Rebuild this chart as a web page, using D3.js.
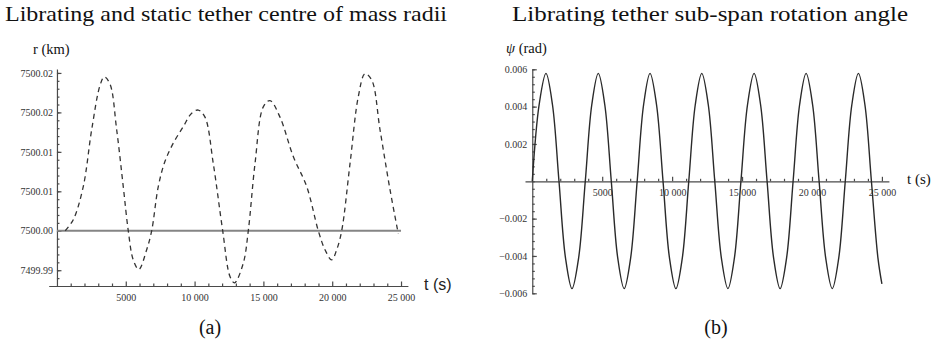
<!DOCTYPE html>
<html>
<head>
<meta charset="utf-8">
<script src="https://cdn.jsdelivr.net/npm/d3@7"></script>
<style>
body{margin:0;background:#fff}
svg{display:block;background:#fff}
.axis .tick text{font-family:"Times New Roman","Liberation Serif",Times,serif;font-size:10px;fill:#333}
.axis path,.axis line{stroke:#4a4a4a;stroke-width:1.2}
.label{font-family:"Times New Roman","Liberation Serif",Times,serif;fill:#111}
</style>
</head>
<body>
<svg id="chart" width="934" height="344"></svg>
<script>
// (a) librating tether centre of mass radius, km (dashed) and static radius (solid)
var radiusTimes = [600, 1185, 1911, 2522, 3125, 3437, 3852, 4339, 4818, 5182, 5545, 5950, 6519, 6882,
    7362, 7849, 8452, 9179, 9790, 10270, 10756, 11360, 12043, 12573, 12900, 13539, 13903, 14390,
    14993, 15480, 16206, 17173, 18147, 18990, 19477, 19964, 20327, 20690, 21294, 21897, 22384,
    22871, 23474, 24201, 24804]
var radiusValues = [7500.0000, 7500.0014, 7500.0056, 7500.0128, 7500.0184, 7500.0195, 7500.0186,
    7500.0128, 7500.0056, 7500.0000, 7499.9963, 7499.9951, 7499.9976, 7500.0000, 7500.0056,
    7500.0088, 7500.0111, 7500.0132, 7500.0149, 7500.0153, 7500.0144, 7500.0085, 7500.0000,
    7499.9942, 7499.9934, 7499.9959, 7500.0000, 7500.0085, 7500.0157, 7500.0165, 7500.0144,
    7500.0094, 7500.0056, 7500.0000, 7499.9976, 7499.9963, 7499.9976, 7500.0000, 7500.0085,
    7500.0170, 7500.0199, 7500.0191, 7500.0128, 7500.0052, 7499.9996]
var staticTimes = [0, 25000]
var staticValues = [7500, 7500]

var leftYTicks = [7499.995, 7500.000, 7500.005, 7500.010, 7500.015, 7500.020]
var leftYLabels = ["7499.99", "7500.00", "7500.01", "7500.01", "7500.02", "7500.02"]

// (b) sub-span rotation angle, rad
var psiTimes = [0, 490, 980, 1445, 1910, 2375, 2840, 3315,
    3790, 4255, 4720, 5185, 5650, 6110, 6570, 7035,
    7500, 7960, 8420, 8885, 9350, 9810, 10270, 10730,
    11190, 11655, 12120, 12585, 13050, 13520, 13990, 14455,
    14920, 15390, 15860, 16325, 16790, 17255, 17720, 18185,
    18650, 19115, 19580, 20045, 20510, 20980, 21450, 21915,
    22380, 22850, 23320, 23785, 24250, 24715, 25000]
var psiValues = [0, 0.0041, 0.00578, 0.0041, 0, -0.0041, -0.00575, -0.0041,
    0, 0.0041, 0.00578, 0.0041, 0, -0.0041, -0.00575, -0.0041,
    0, 0.0041, 0.00578, 0.0041, 0, -0.0041, -0.00575, -0.0041,
    0, 0.0041, 0.00578, 0.0041, 0, -0.0041, -0.00575, -0.0041,
    0, 0.0041, 0.00578, 0.0041, 0, -0.0041, -0.00575, -0.0041,
    0, 0.0041, 0.00578, 0.0041, 0, -0.0041, -0.00575, -0.0041,
    0, 0.0041, 0.00578, 0.0041, 0, -0.0041, -0.0055]

var rightYTicks = [-0.006, -0.004, -0.002, 0.002, 0.004, 0.006]
var rightYLabels = ["\u22120.006", "\u22120.004", "\u22120.002", "0.002", "0.004", "0.006"]

var timeTicks = [5000, 10000, 15000, 20000, 25000]
var timeLabels = ["5000", "10 000", "15 000", "20 000", "25 000"]

var svg = d3.select("#chart")

var zip = function(xs, ys){
    return xs.map(function(x, i){ return {t: x, v: ys[i]} })
}

var minorTimes = d3.range(1000, 25001, 1000).filter(function(d){ return d % 5000 != 0 })

// x axis with inward ticks (pointing up) plus minor ticks
var drawTimeAxis = function(xScale, y, pad){
    var minor = d3.axisBottom(xScale).tickValues(minorTimes)
        .tickFormat("").tickSize(-2.5).tickSizeOuter(0)
    svg.append("g").attr("class", "axis")
        .attr("transform", "translate(0," + y + ")")
        .call(minor)
        .call(function(g){ g.select(".domain").remove() })

    var major = d3.axisBottom(xScale).tickValues(timeTicks)
        .tickFormat(function(d, i){ return timeLabels[i] })
        .tickSize(-4.5).tickSizeOuter(0).tickPadding(pad)
    svg.append("g").attr("class", "axis")
        .attr("transform", "translate(0," + y + ")")
        .call(major)
}

var drawValueAxis = function(yScale, x, ticks, labels, minorTicks, pad){
    var minor = d3.axisLeft(yScale).tickValues(minorTicks)
        .tickFormat("").tickSize(-2.5).tickSizeOuter(0)
    svg.append("g").attr("class", "axis")
        .attr("transform", "translate(" + x + ",0)")
        .call(minor)
        .call(function(g){ g.select(".domain").remove() })

    var major = d3.axisLeft(yScale).tickValues(ticks)
        .tickFormat(function(d, i){ return labels[i] })
        .tickSize(-4.5).tickSizeOuter(0).tickPadding(pad)
    svg.append("g").attr("class", "axis")
        .attr("transform", "translate(" + x + ",0)")
        .call(major)
}

//---------- panel (a) ----------
var xLeft = d3.scaleLinear().domain([-600, 25500]).range([48.7, 407.9])
var yLeft = d3.scaleLinear().domain([7499.993, 7500.0205]).range([286, 69])

var leftLine = d3.line()
    .x(function(d){ return xLeft(d.t) })
    .y(function(d){ return yLeft(d.v) })
    .curve(d3.curveCatmullRom.alpha(0.5))

drawTimeAxis(xLeft, yLeft.range()[0], 8)
drawValueAxis(yLeft, xLeft(0), leftYTicks, leftYLabels,
    d3.range(7499.994, 7500.0205, 0.001), 4)

svg.append("path")
    .datum(zip(staticTimes, staticValues))
    .attr("d", leftLine)
    .attr("fill", "none")
    .attr("stroke", "#858585")
    .attr("stroke-width", 2)

svg.append("path")
    .datum(zip(radiusTimes, radiusValues))
    .attr("d", leftLine)
    .attr("fill", "none")
    .attr("stroke", "#333")
    .attr("stroke-width", 1.3)
    .attr("stroke-dasharray", "5,4")

//---------- panel (b) ----------
var xRight = d3.scaleLinear().domain([-520, 25500]).range([525, 888.9])
var yRight = d3.scaleLinear().domain([-0.006, 0.006]).range([293.3, 69.3])

drawTimeAxis(xRight, yRight(0), 8)
drawValueAxis(yRight, xRight(0), rightYTicks, rightYLabels,
    d3.range(-0.006, 0.00601, 0.0004), 5)

var rightLine = d3.line()
    .x(function(d){ return xRight(d.t) })
    .y(function(d){ return yRight(d.v) })
    .curve(d3.curveCatmullRom.alpha(0.5))

svg.append("path")
    .datum(zip(psiTimes, psiValues))
    .attr("d", rightLine)
    .attr("fill", "none")
    .attr("stroke", "#2a2a2a")
    .attr("stroke-width", 1.4)

//---------- labels ----------
var labels = svg.append("g")

labels.append("text").classed("label", true)
    .attr("x", 5).attr("y", 21)
    .attr("font-size", 22)
    .attr("textLength", 442).attr("lengthAdjust", "spacingAndGlyphs")
    .text("Librating and static tether centre of mass radii")

labels.append("text").classed("label", true)
    .attr("x", 512).attr("y", 21)
    .attr("font-size", 22)
    .attr("textLength", 396).attr("lengthAdjust", "spacingAndGlyphs")
    .text("Librating tether sub-span rotation angle")

labels.append("text").classed("label", true)
    .attr("x", 33).attr("y", 54)
    .attr("font-size", 14.5)
    .text("r (km)")

var psiLabel = labels.append("text").classed("label", true)
    .attr("x", 506).attr("y", 53)
    .attr("font-size", 14.5)
psiLabel.append("tspan").attr("font-style", "italic").text("\u03c8")
psiLabel.append("tspan").text(" (rad)")

labels.append("text")
    .attr("x", 424).attr("y", 290)
    .attr("font-family", "'Liberation Sans', sans-serif")
    .attr("font-size", 16).attr("fill", "#222")
    .text("t (s)")

labels.append("text").classed("label", true)
    .attr("x", 907).attr("y", 184)
    .attr("font-size", 15)
    .text("t (s)")

labels.append("text").classed("label", true)
    .attr("x", 210).attr("y", 334)
    .attr("text-anchor", "middle")
    .attr("font-size", 20)
    .text("(a)")

labels.append("text").classed("label", true)
    .attr("x", 716).attr("y", 334)
    .attr("text-anchor", "middle")
    .attr("font-size", 20)
    .text("(b)")
</script>
</body>
</html>
